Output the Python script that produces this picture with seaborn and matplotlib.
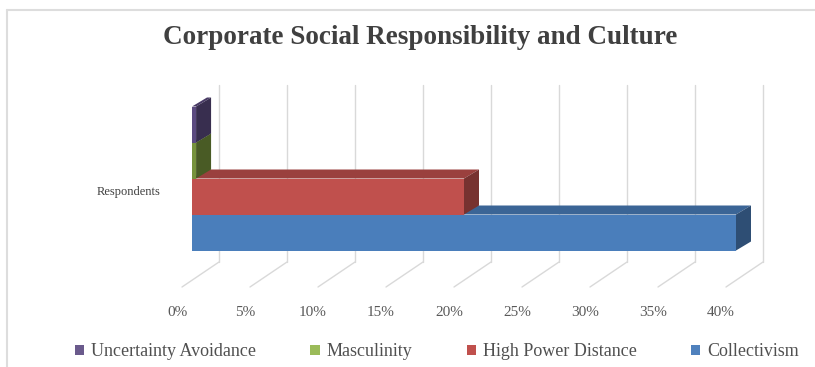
import matplotlib
matplotlib.use("Agg")
import matplotlib.pyplot as plt
import matplotlib.colors as mcolors
from matplotlib.patches import Polygon
from matplotlib.lines import Line2D
from matplotlib.transforms import ScaledTranslation
import seaborn as sns
import pandas as pd
import numpy as np

# ---- data ----
category = ["Respondents"]
series = ["Uncertainty Avoidance", "Masculinity", "High Power Distance", "Collectivism"]
values = [0.3, 0.3, 20, 40]
colors = ["#5B4A80", "#76923C", "#C0504D", "#4A7EBB"]
legend_colors = ["#6A5A8C", "#9BBB59", "#C0504D", "#4F81BD"]
xticks = [0, 5, 10, 15, 20, 25, 30, 35, 40]
xtick_labels = ["0%", "5%", "10%", "15%", "20%", "25%", "30%", "35%", "40%"]
title = "Corporate Social Responsibility and Culture"

df = pd.DataFrame({"Category": category * len(series), "Series": series, "Value": values})

sns.set_theme(style="white")
plt.rcParams["font.family"] = ["Liberation Serif", "DejaVu Serif"]

W, H = 815, 367
fig = plt.figure(figsize=(W / 100, H / 100), dpi=100)
ax_left, ax_right = 192, 736
ax_top, ax_bot = 88.5, 268.5
ax = fig.add_axes([ax_left / W, 1 - ax_bot / H, (ax_right - ax_left) / W, (ax_bot - ax_top) / H])

sns.barplot(data=df, x="Value", y="Category", hue="Series", hue_order=series,
            palette=colors, orient="h", width=0.8, ax=ax, legend=False,
            saturation=1, edgecolor="none")
ax.set_xlim(0, 40)
ax.set_ylim(0.5, -0.5)
ax.set_xlabel("")
ax.set_ylabel("")
for s in ax.spines.values():
    s.set_visible(False)
ax.grid(False)
ax.patch.set_alpha(0)

# back wall gridlines + floor diagonals (derived from tick positions)
grid_dx = 27
for t in xticks:
    xf = ax.transData.transform((t, 0))[0]
    xb = xf + grid_dx
    for xs, ys in (([xb, xb], [H - 85, H - 262]), ([xb, xb - 37], [H - 262, H - 287])):
        ln = Line2D(xs, ys, transform=None, color="#D9D9D9", lw=1, zorder=0.5)
        ax.add_line(ln)
        ln.set_transform(matplotlib.transforms.IdentityTransform())
        ln.set_clip_on(False)

# 3D depth faces derived from bar geometry
dx, dy = 15, 9
fig.canvas.draw()
for i, (patch, col) in enumerate(zip(ax.patches[:len(series)], colors)):
    base = 10 - 2 * i
    patch.set_zorder(base + 0.5)
    x0, y0 = patch.get_x(), patch.get_y()
    w, h = patch.get_width(), patch.get_height()
    (px0, py_a) = ax.transData.transform((x0, y0))
    (px1, py_b) = ax.transData.transform((x0 + w, y0 + h))
    top = max(py_a, py_b)
    bot = min(py_a, py_b)
    dark_top = np.array(mcolors.to_rgb(col)) * 0.8
    dark_side = np.array(mcolors.to_rgb(col)) * 0.62
    polys = [
        ([(px0, top), (px1, top), (px1 + dx, top + dy), (px0 + dx, top + dy)], dark_top),
        ([(px1, top), (px1 + dx, top + dy), (px1 + dx, bot + dy), (px1, bot)], dark_side),
    ]
    for pts, fc in polys:
        pg = Polygon(pts, closed=True, facecolor=fc, edgecolor="none")
        ax.add_patch(pg)
        pg.set_transform(matplotlib.transforms.IdentityTransform())
        pg.set_clip_on(False)
        pg.set_zorder(base)

# ticks
ax.set_xticks(xticks)
ax.set_xticklabels(xtick_labels)
ax.tick_params(axis="x", length=0, pad=27, labelsize=11, labelcolor="#595959")
ax.tick_params(axis="y", length=0, pad=23, labelsize=9, labelcolor="#404040")
for lab in ax.get_xticklabels():
    lab.set_transform(lab.get_transform() + ScaledTranslation(-15 / 100, 0, fig.dpi_scale_trans))
for lab in ax.get_yticklabels():
    lab.set_transform(lab.get_transform() + ScaledTranslation(0, -11.5 / 100, fig.dpi_scale_trans))

# title
fig.text(420 / W, 1 - 37 / H, title, ha="center", va="center", fontsize=19.5,
         fontweight="bold", color="#404040")

# legend
handles = [plt.Rectangle((0, 0), 1, 1, facecolor=c, edgecolor="none") for c in legend_colors]
fig.legend(handles, series, loc="center", bbox_to_anchor=(437 / W, 1 - 352 / H), ncol=4,
           frameon=False, handlelength=0.5, handleheight=0.5, handletextpad=0.4,
           columnspacing=3.0, prop={"size": 13}, labelcolor="#505050")

# light frame
fig.add_artist(Line2D([7, W], [H - 10, H - 10], transform=None, color="#DDDDDD", lw=1.5))
fig.add_artist(Line2D([7, 7], [H - 10, 0], transform=None, color="#DDDDDD", lw=1.5))

fig.savefig("out.png", dpi=100)
